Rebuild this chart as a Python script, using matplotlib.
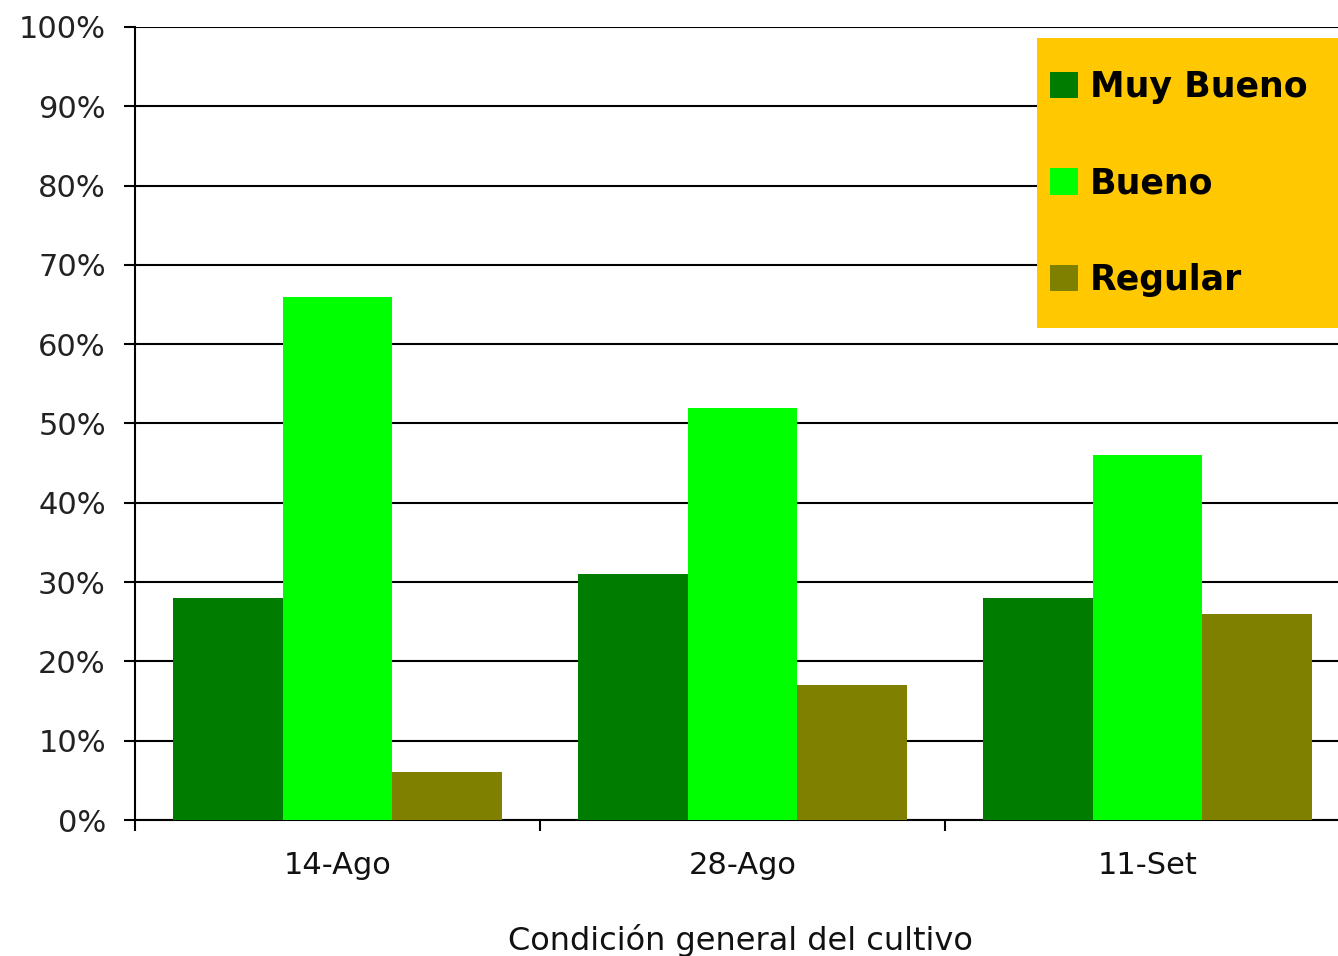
import matplotlib.pyplot as plt
from matplotlib.patches import Patch, Rectangle
from matplotlib.ticker import PercentFormatter
import numpy as np

fechas = ["14-Ago", "28-Ago", "11-Set"]
series = ["Muy Bueno", "Bueno", "Regular"]
muy_bueno = [28, 31, 28]
bueno = [66, 52, 46]
regular = [6, 17, 26]
colores = ["#007d00", "#00ff00", "#808000"]

plt.rcParams["font.family"] = ["DejaVu Sans"]

fig = plt.figure(figsize=(13.38, 9.56), dpi=100)
ax = fig.add_axes([135 / 1338, 1 - 820 / 956, 1215 / 1338, 793 / 956])

x = np.arange(len(fechas))
w = 0.27
for i, (vals, col) in enumerate(zip([muy_bueno, bueno, regular], colores)):
    ax.bar(x + (i - 1) * w, vals, width=w, color=col, zorder=3, linewidth=0)

ax.set_xlim(-0.5, len(fechas) - 0.5)
ax.set_ylim(0, 100)
ax.set_yticks(np.arange(0, 101, 10))
ax.yaxis.set_major_formatter(PercentFormatter(decimals=0))
ax.yaxis.grid(True, color="black", linewidth=1.5, zorder=1)

ax.set_xticks(x)
ax.set_xticklabels(fechas, fontsize=22, color="#111111")
ax.set_xticks(np.arange(-0.5, len(fechas)), minor=True)
ax.tick_params(axis="x", which="major", length=0, pad=22)
ax.tick_params(axis="x", which="minor", length=8, width=1.5, direction="out")
ax.tick_params(axis="y", length=8, width=1.5, direction="out", labelsize=22,
               labelcolor="#222222", pad=13)

for s in ["top", "right"]:
    ax.spines[s].set_visible(False)
ax.spines["left"].set_linewidth(1.5)
ax.spines["bottom"].set_linewidth(1.5)

ax.set_xlabel("Condición general del cultivo", fontsize=23, color="#111111")
ax.xaxis.set_label_coords(605 / 1215, -0.131)

# orange legend panel running off the right edge
fig.patches.append(Rectangle((1037 / 1338, 1 - 328 / 956), 320 / 1338, 290 / 956,
                             transform=fig.transFigure, facecolor="#ffc800",
                             edgecolor="none", zorder=0))
handles = [Patch(facecolor=c, edgecolor="none") for c in colores]
leg = fig.legend(handles, series, loc="upper left",
                 bbox_to_anchor=(1050 / 1338, 1 - 70 / 956),
                 prop={"size": 25, "weight": "bold"}, frameon=False,
                 handlelength=0.8, handleheight=0.8, handletextpad=0.35,
                 labelspacing=1.8, borderpad=0, borderaxespad=0)
leg.set_zorder(5)

fig.savefig("out.png", dpi=100)
